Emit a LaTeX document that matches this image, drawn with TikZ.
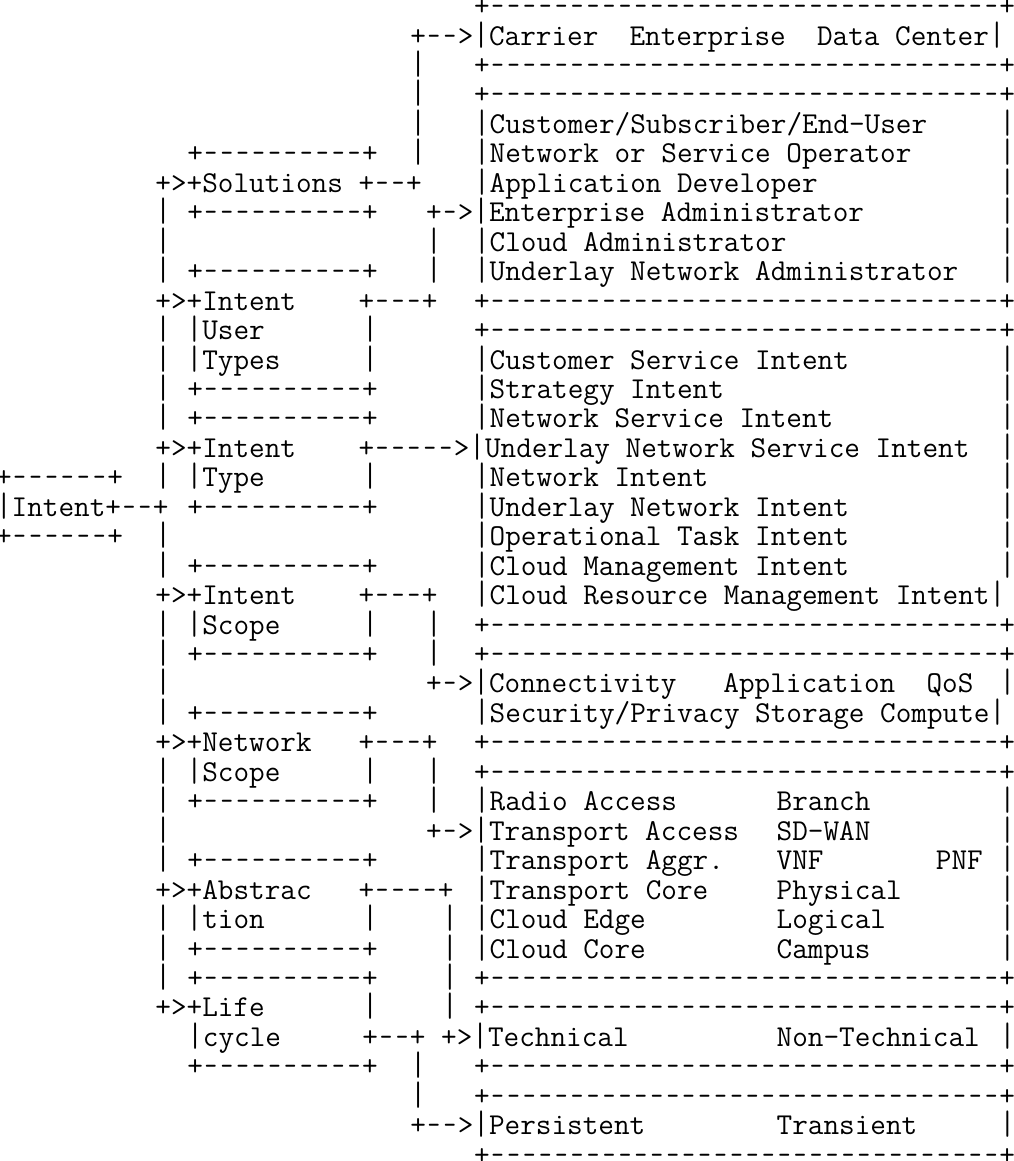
\documentclass[tikz,border=0pt]{standalone}
\usepackage{fontspec}
\usepackage{graphicx}
\tikzset{
  txt/.style={inner sep=0pt, outer sep=0pt, anchor=base west, text=black,
    font=\ttfamily\fontsize{30.34}{36}\selectfont}
}
% place text at row #1, column #2
\newcommand\T[3]{\node[txt] (t#1c#2) at ({-3.9+#2*15.93},{-(15.6+#1*29.45)}) {#3};}
% typewriter ASCII-art glyphs: tall bar, slightly shorter dash
\newcommand\B{\scalebox{1}[1.12]{|}}
\newcommand\D{\makebox[0.525em]{\scalebox{0.8}[1]{-}}}
\newcommand\R[1]{\T{#1}{63}{\B}}
\newcommand\bord{+\D\D\D\D\D\D\D\D\D\D\D\D\D\D\D\D\D\D\D\D\D\D\D\D\D\D\D\D\D\D\D\D+}
\newcommand\sbx{+\D\D\D\D\D\D\D\D\D\D+}
\begin{document}
\begin{tikzpicture}[x=1pt,y=1pt]
\useasboundingbox (0,0) rectangle (1013,-1161);
\T{0}{30}{\bord}
\T{1}{26}{+\D\D>\B{}Carrier~~Enterprise~~Data~Center\B}
\T{2}{26}{\B} \T{2}{30}{\bord}
\T{3}{26}{\B} \T{3}{30}{\bord}
\T{4}{26}{\B} \T{4}{30}{\B{}Customer/Subscriber/End-User} \R{4}
\T{5}{12}{\sbx} \T{5}{26}{\B} \T{5}{30}{\B{}Network~or~Service~Operator} \R{5}
\T{6}{10}{+>+Solutions~+\D\D+} \T{6}{30}{\B{}Application~Developer} \R{6}
\T{7}{10}{\B} \T{7}{12}{\sbx} \T{7}{27}{+\D>\B{}Enterprise~Administrator} \R{7}
\T{8}{10}{\B} \T{8}{27}{\B} \T{8}{30}{\B{}Cloud~Administrator} \R{8}
\T{9}{10}{\B} \T{9}{12}{\sbx} \T{9}{27}{\B} \T{9}{30}{\B{}Underlay~Network~Administrator} \R{9}
\T{10}{10}{+>+Intent~~~~+\D\D\D+} \T{10}{30}{\bord}
\T{11}{10}{\B~\B{}User} \T{11}{23}{\B} \T{11}{30}{\bord}
\T{12}{10}{\B~\B{}Types} \T{12}{23}{\B} \T{12}{30}{\B{}Customer~Service~Intent} \R{12}
\T{13}{10}{\B} \T{13}{12}{\sbx} \T{13}{30}{\B{}Strategy~Intent} \R{13}
\T{14}{10}{\B} \T{14}{12}{\sbx} \T{14}{30}{\B{}Network~Service~Intent} \R{14}
\T{15}{10}{+>+Intent~~~~+\D\D\D\D\D>\B{}Underlay~Network~Service~Intent} \R{15}
\T{16}{0}{+\D\D\D\D\D\D+} \T{16}{10}{\B~\B{}Type} \T{16}{23}{\B} \T{16}{30}{\B{}Network~Intent} \R{16}
\T{17}{0}{\B{}Intent+\D\D+} \T{17}{12}{\sbx} \T{17}{30}{\B{}Underlay~Network~Intent} \R{17}
\T{18}{0}{+\D\D\D\D\D\D+} \T{18}{10}{\B} \T{18}{30}{\B{}Operational~Task~Intent} \R{18}
\T{19}{10}{\B} \T{19}{12}{\sbx} \T{19}{30}{\B{}Cloud~Management~Intent} \R{19}
\T{20}{10}{+>+Intent~~~~+\D\D\D+} \T{20}{30}{\B{}Cloud~Resource~Management~Intent\B}
\T{21}{10}{\B~\B{}Scope} \T{21}{23}{\B} \T{21}{27}{\B} \T{21}{30}{\bord}
\T{22}{10}{\B} \T{22}{12}{\sbx} \T{22}{27}{\B} \T{22}{30}{\bord}
\T{23}{10}{\B} \T{23}{27}{+\D>\B{}Connectivity~~~Application~~QoS} \R{23}
\T{24}{10}{\B} \T{24}{12}{\sbx} \T{24}{30}{\B{}Security/Privacy~Storage~Compute\B}
\T{25}{10}{+>+Network~~~+\D\D\D+} \T{25}{30}{\bord}
\T{26}{10}{\B~\B{}Scope} \T{26}{23}{\B} \T{26}{27}{\B} \T{26}{30}{\bord}
\T{27}{10}{\B} \T{27}{12}{\sbx} \T{27}{27}{\B} \T{27}{30}{\B{}Radio~Access} \T{27}{49}{Branch} \R{27}
\T{28}{10}{\B} \T{28}{27}{+\D>\B{}Transport~Access} \T{28}{49}{SD-WAN} \R{28}
\T{29}{10}{\B} \T{29}{12}{\sbx} \T{29}{30}{\B{}Transport~Aggr.} \T{29}{49}{VNF} \T{29}{59}{PNF} \R{29}
\T{30}{10}{+>+Abstrac~~~+\D\D\D\D+} \T{30}{30}{\B{}Transport~Core} \T{30}{49}{Physical} \R{30}
\T{31}{10}{\B~\B{}tion} \T{31}{23}{\B} \T{31}{28}{\B} \T{31}{30}{\B{}Cloud~Edge} \T{31}{49}{Logical} \R{31}
\T{32}{10}{\B} \T{32}{12}{\sbx} \T{32}{28}{\B} \T{32}{30}{\B{}Cloud~Core} \T{32}{49}{Campus} \R{32}
\T{33}{10}{\B} \T{33}{12}{\sbx} \T{33}{28}{\B} \T{33}{30}{\bord}
\T{34}{10}{+>+Life} \T{34}{23}{\B} \T{34}{28}{\B} \T{34}{30}{\bord}
\T{35}{12}{\B{}cycle} \T{35}{23}{+\D\D+~+>\B{}Technical} \T{35}{49}{Non-Technical} \R{35}
\T{36}{12}{\sbx} \T{36}{26}{\B} \T{36}{30}{\bord}
\T{37}{26}{\B} \T{37}{30}{\bord}
\T{38}{26}{+\D\D>\B{}Persistent} \T{38}{49}{Transient} \R{38}
\T{39}{30}{\bord}
\end{tikzpicture}
\end{document}
